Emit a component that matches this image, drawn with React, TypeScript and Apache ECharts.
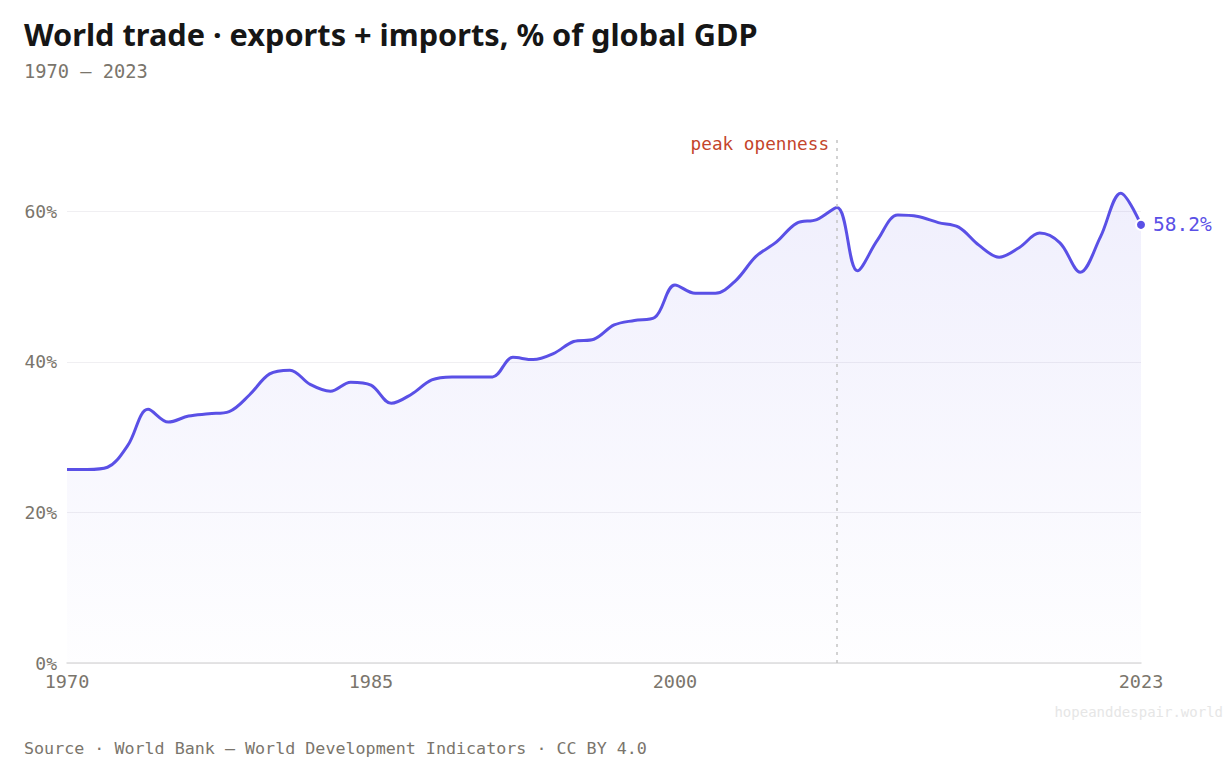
import * as echarts from "echarts";
import { useEffect, useRef } from "react";

const YEARS = [
  1970, 1971, 1972, 1973, 1974, 1975, 1976, 1977, 1978, 1979, 1980, 1981, 1982, 1983,
  1984, 1985, 1986, 1987, 1988, 1989, 1990, 1991, 1992, 1993, 1994, 1995, 1996, 1997,
  1998, 1999, 2000, 2001, 2002, 2003, 2004, 2005, 2006, 2007, 2008, 2009, 2010, 2011,
  2012, 2013, 2014, 2015, 2016, 2017, 2018, 2019, 2020, 2021, 2022, 2023,
];

// trade openness, % of world GDP
const TRADE = [
  25.7, 25.7, 26.0, 28.9, 33.7, 32.0, 32.8, 33.1, 33.4, 35.6, 38.4, 38.9, 37.0, 36.1,
  37.3, 36.9, 34.5, 35.7, 37.6, 38.0, 38.0, 38.0, 40.6, 40.3, 41.1, 42.7, 43.0, 44.9,
  45.5, 45.9, 50.2, 49.1, 49.1, 50.8, 54.0, 55.9, 58.4, 58.9, 60.5, 52.1, 56.2, 59.5,
  59.3, 58.5, 57.9, 55.5, 53.9, 55.2, 57.1, 55.8, 51.9, 56.6, 62.4, 58.2,
];

const X_LABELS = [1970, 1985, 2000, 2023];
const PEAK_YEAR = 2008;

const MONO = '"DejaVu Sans Mono", monospace';
const SANS = '"Noto Sans", sans-serif';
const INK = "#161616";
const MUTED = "#7a756c";
const ACCENT = "#5a50e6";
const RED = "#c4452b";

export default function App() {
  const ref = useRef<HTMLDivElement>(null);

  useEffect(() => {
    const el = ref.current;
    if (!el) return;
    document.body.style.margin = "0";
    document.body.style.overflow = "hidden";
    const chart = echarts.init(el, null, { renderer: "svg" });
    const data = YEARS.map((y, i) => [y, TRADE[i]]);
    const last = data[data.length - 1];

    chart.setOption({
      animation: false,
      backgroundColor: "#ffffff",
      textStyle: { fontFamily: MONO },
      title: [
        {
          text: "World trade · exports + imports, % of global GDP",
          left: 24,
          top: 18,
          padding: 0,
          textStyle: { fontFamily: SANS, fontSize: 30.7, fontWeight: "bold", color: INK },
        },
        {
          text: "1970 — 2023",
          left: 24,
          top: 62,
          padding: 0,
          textStyle: { fontFamily: MONO, fontSize: 18.7, fontWeight: "normal", color: MUTED },
        },
        {
          text: "Source · World Bank — World Development Indicators · CC BY 4.0",
          left: 24,
          top: 739,
          padding: 0,
          textStyle: { fontFamily: MONO, fontSize: 16.7, fontWeight: "normal", color: MUTED },
        },
        {
          text: "hopeanddespair.world",
          right: 4,
          top: 705,
          padding: 0,
          textStyle: { fontFamily: MONO, fontSize: 14, fontWeight: "normal", color: "#e6e6e6" },
        },
      ],
      grid: { left: 67, right: 86, top: 136, bottom: 108 },
      xAxis: {
        type: "value",
        min: 1970,
        max: 2023,
        interval: 15,
        axisLine: { show: true, lineStyle: { color: "#dddddd", width: 1.5 } },
        axisTick: { show: false },
        splitLine: { show: false },
        axisLabel: {
          color: MUTED,
          fontSize: 18.5,
          fontFamily: MONO,
          margin: 9,
          showMinLabel: true,
          showMaxLabel: true,
          formatter: (v: number) => (X_LABELS.includes(v) ? String(v) : ""),
        },
      },
      yAxis: {
        type: "value",
        min: 0,
        max: 70,
        interval: 20,
        axisLine: { show: false },
        axisTick: { show: false },
        splitLine: { show: true, showMaxLine: false, lineStyle: { color: "#f0eff2", width: 1 } },
        axisLabel: {
          color: MUTED,
          fontSize: 18,
          fontFamily: MONO,
          margin: 10,
          showMaxLabel: false,
          formatter: (v: number) => (v === 70 ? "" : `${v}%`),
        },
      },
      series: [
        {
          type: "line",
          data,
          smooth: 0.35,
          showSymbol: false,
          lineStyle: { color: ACCENT, width: 3 },
          areaStyle: {
            color: new echarts.graphic.LinearGradient(0, 0, 0, 1, [
              { offset: 0, color: "rgba(90,80,230,0.13)" },
              { offset: 1, color: "rgba(90,80,230,0.01)" },
            ]),
          },
          markLine: {
            silent: true,
            symbol: ["none", "none"],
            lineStyle: { color: "#c4c4c4", type: [3, 5], width: 1.5 },
            label: {
              show: true,
              position: "insideEndBottom",
              formatter: "peak openness",
              color: RED,
              fontFamily: MONO,
              fontSize: 17.7,
              rotate: 0,
              align: "right",
              verticalAlign: "middle",
              distance: [8, 8],
            },
            data: [{ xAxis: PEAK_YEAR }],
          },
        },
        {
          type: "scatter",
          data: [last],
          symbolSize: 10,
          itemStyle: { color: ACCENT, opacity: 1, borderColor: "#ffffff", borderWidth: 2 },
          label: {
            show: true,
            position: "right",
            distance: 6,
            formatter: `${last[1].toFixed(1)}%`,
            color: ACCENT,
            opacity: 1,
            fontFamily: MONO,
            fontSize: 19.5,
          },
          z: 5,
        },
      ],
    });
    return () => chart.dispose();
  }, []);

  return <div ref={ref} style={{ width: 1227, height: 771 }} />;
}
